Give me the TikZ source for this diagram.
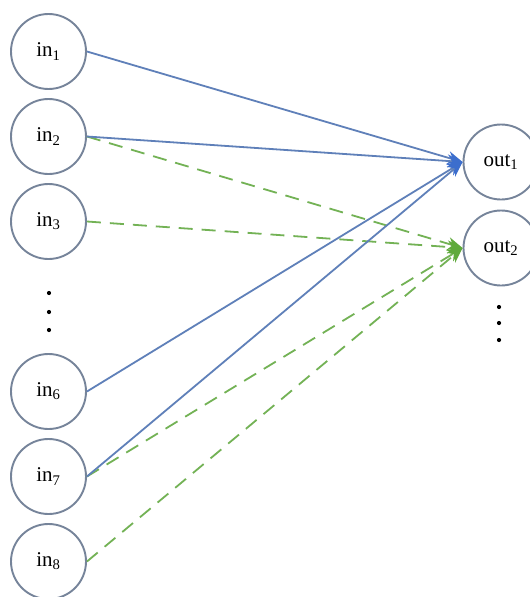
\documentclass[tikz,border=0pt]{standalone}
\usepackage{fontspec}
\setmainfont{Liberation Serif}
\usetikzlibrary{arrows.meta}
\definecolor{ringcol}{RGB}{118,132,154}
\definecolor{bluel}{RGB}{95,128,185}
\definecolor{blueh}{RGB}{60,110,205}
\definecolor{greenl}{RGB}{115,178,85}
\definecolor{greenh}{RGB}{95,170,60}
\begin{document}
\begin{tikzpicture}[x=1pt,y=-1pt,
  neuron/.style={circle,draw=ringcol,line width=1.9pt,minimum size=75pt,inner sep=0pt,font=\fontsize{21}{21}\selectfont},
  solidarrow/.style={draw=bluel,line width=1.8pt,-{Stealth[length=15pt,width=13pt,color=blueh]}},
  dasharrow/.style={draw=greenl,line width=1.8pt,dash pattern=on 14pt off 9pt,-{Stealth[length=15pt,width=13pt,color=greenh]}},
  dotnode/.style={circle,fill=black,inner sep=0pt,minimum size=4.2pt}]
\useasboundingbox (0,0) rectangle (530,597);
\fill[white] (0,0) rectangle (530,597);
% input nodes
\node[neuron] (in1) at (48.5,51.5) {in\textsubscript{1}};
\node[neuron] (in2) at (48.5,136.5) {in\textsubscript{2}};
\node[neuron] (in3) at (48.5,221.5) {in\textsubscript{3}};
\node[neuron] (in6) at (48.5,391.5) {in\textsubscript{6}};
\node[neuron] (in7) at (48.5,476.5) {in\textsubscript{7}};
\node[neuron] (in8) at (48.5,561.5) {in\textsubscript{8}};
% output nodes
\node[neuron] (out1) at (501,162) {out\textsubscript{1}};
\node[neuron] (out2) at (501,248) {out\textsubscript{2}};
% ellipsis dots
\node[dotnode] (ld1) at (49,293) {};
\node[dotnode] (ld2) at (49,312) {};
\node[dotnode] (ld3) at (49,330) {};
\node[dotnode] (rd1) at (499,307) {};
\node[dotnode] (rd2) at (499,323) {};
\node[dotnode] (rd3) at (499,340) {};
% dashed green connections
\draw[dasharrow] (in2.east) -- (out2.west);
\draw[dasharrow] (in3.east) -- (out2.west);
\draw[dasharrow] (in7.east) -- (out2.west);
\draw[dasharrow] (in8.east) -- (out2.west);
% solid blue connections
\draw[solidarrow] (in1.east) -- (out1.west);
\draw[solidarrow] (in2.east) -- (out1.west);
\draw[solidarrow] (in6.east) -- (out1.west);
\draw[solidarrow] (in7.east) -- (out1.west);
\end{tikzpicture}
\end{document}
